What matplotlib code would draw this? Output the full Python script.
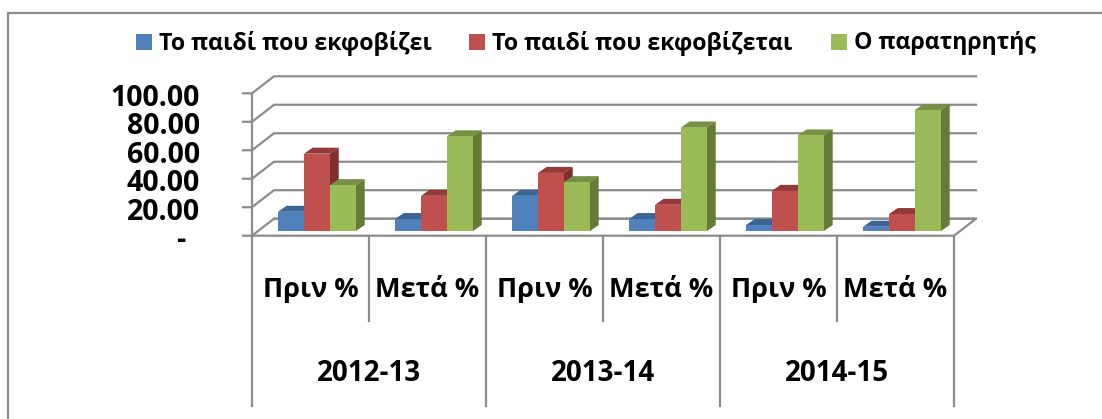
import matplotlib
matplotlib.use("Agg")
import matplotlib.pyplot as plt
from matplotlib.patches import Polygon, Rectangle
from matplotlib.lines import Line2D

plt.rcParams['font.family'] = ['Open Sans', 'DejaVu Sans']

years = ['2012-13', '2013-14', '2014-15']
periods = ['Πριν %', 'Μετά %', 'Πριν %', 'Μετά %', 'Πριν %', 'Μετά %']
series_names = ['Το παιδί που εκφοβίζει', 'Το παιδί που εκφοβίζεται', 'Ο παρατηρητής']
bully = [13.5, 8.4, 24.7, 8.4, 4.2, 3.0]
victim = [54.3, 24.7, 40.8, 18.4, 28.2, 11.9]
observer = [32.2, 66.5, 34.3, 72.7, 67.1, 85.0]
yticks = [0, 20, 40, 60, 80, 100]
ylabels = ['-', '20.00', '40.00', '60.00', '80.00', '100.00']

front = ['#4F81BD', '#C0504D', '#9BBB59']
top = ['#3A6595', '#953A38', '#789044']
side = ['#2F5380', '#7F302E', '#667B38']
grey = '#8C8C8C'

W, H = 1102, 419
fig = plt.figure(figsize=(W / 100, H / 100), dpi=100)
# front plane of the 3d box in pixels: x 252-954, y 235.7 (0) - 93.3 (100)
ax = fig.add_axes([252 / W, 1 - 235.7 / H, 702 / W, 142.4 / H])
ax.set_xlim(0, 6)
ax.set_ylim(0, 100)
ax.axis('off')

xpx = 6 / 702      # data units per pixel
ypx = 100 / 142.4
dx, dy = 22 * xpx, 17 * ypx

kw = dict(clip_on=False)
# gridlines with the slanted part on the left wall
for v in yticks:
    ax.plot([-9 * xpx, 0, dx, 6 + dx], [v, v, v + dy, v + dy], color=grey, lw=1.6, **kw)
ax.plot([0, 0], [0, 100], color=grey, lw=1.6, **kw)
ax.plot([dx, 6 + dx, 6, 0], [dy, dy, 0, 0], color=grey, lw=1.6, **kw)

# bars
base = 3.3
bw = 26 * xpx
sx, sy = 8.7 * xpx, 6 * ypx
for s, vals in enumerate([bully, victim, observer]):
    for i, v in enumerate(vals):
        x0 = i + 26 * xpx + s * bw
        ax.add_patch(Polygon([(x0, base + v), (x0 + sx, base + v + sy), (x0 + bw + sx, base + v + sy), (x0 + bw, base + v)],
                             fc=top[s], ec='none', zorder=3, **kw))
        ax.add_patch(Polygon([(x0 + bw, base), (x0 + bw + sx, base + sy), (x0 + bw + sx, base + v + sy), (x0 + bw, base + v)],
                             fc=side[s], ec='none', zorder=3, **kw))
        ax.bar(x0, v, bw, bottom=base, align='edge', color=front[s], zorder=4, clip_on=False)

for v, t in zip(yticks, ylabels):
    # the "-" for zero sits further left, as in an accounting number format
    off = 67 if t == '-' else 52
    ax.text(-off * xpx, v - 5 * ypx, t, ha='right', va='center', fontsize=20.5, fontweight='bold', **kw)

# category table below the axis
for i in range(7):
    low = -119.4 if i % 2 == 0 else -59.7
    ax.plot([i, i], [0, low], color=grey, lw=1.6, **kw)
for i, t in enumerate(periods):
    ax.text(i + 0.5, -38, t, ha='center', va='center', fontsize=19.5, fontweight='bold', **kw)
for i, t in enumerate(years):
    ax.text(2 * i + 1, -96.5, t, ha='center', va='center', fontsize=20, fontweight='bold', **kw)

# legend and outer frame, placed in figure pixels
for x, c, t in zip([136, 469, 831], front, series_names):
    fig.patches.append(Rectangle((x / W, 1 - 50 / H), 16 / W, 16 / H, transform=fig.transFigure, fc=c, ec='none'))
    fig.text((x + 23) / W, 1 - 43 / H, t, ha='left', va='center', fontsize=16.7, fontweight='bold')
fig.add_artist(Line2D([8 / W, 8 / W, 1], [0, 1 - 13 / H, 1 - 13 / H], color=grey, lw=1.6))

fig.savefig('out.png', dpi=100)
